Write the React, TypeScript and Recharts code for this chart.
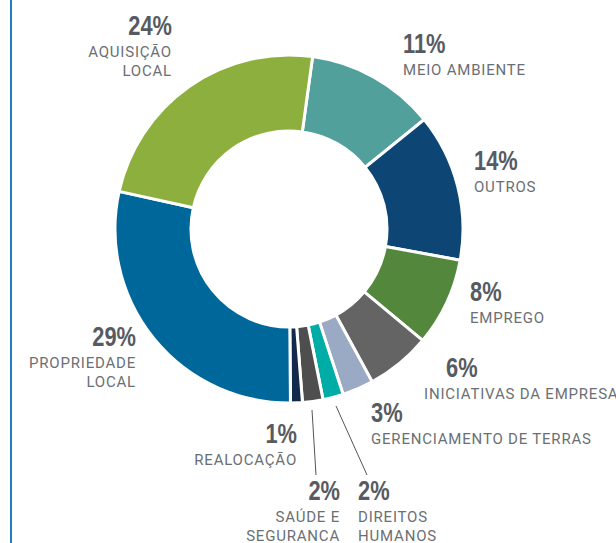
import React from 'react';
import { PieChart, Pie, Cell } from 'recharts';

// slice order, clockwise from the top
const categories = [
  'MEIO AMBIENTE',
  'OUTROS',
  'EMPREGO',
  'INICIATIVAS DA EMPRESA',
  'GERENCIAMENTO DE TERRAS',
  'DIREITOS HUMANOS',
  'SAÚDE E SEGURANCA',
  'REALOCAÇÃO',
  'PROPRIEDADE LOCAL',
  'AQUISIÇÃO LOCAL',
];
const shares = [12.0, 13.7, 8.2, 6.0, 2.9, 1.9, 1.9, 1.1, 28.6, 23.7];
const pctLabels = ['11%', '14%', '8%', '6%', '3%', '2%', '2%', '1%', '29%', '24%'];
// label lines as they are broken in the picture
const nameLines = [
  ['MEIO AMBIENTE'],
  ['OUTROS'],
  ['EMPREGO'],
  ['INICIATIVAS DA EMPRESA'],
  ['GERENCIAMENTO DE TERRAS'],
  ['DIREITOS', 'HUMANOS'],
  ['SAÚDE E', 'SEGURANCA'],
  ['REALOCAÇÃO'],
  ['PROPRIEDADE', 'LOCAL'],
  ['AQUISIÇÃO', 'LOCAL'],
];

const COLORS = [
  '#52A09C', '#0D4674', '#52873C', '#646464', '#9AAAC4',
  '#00ADA6', '#4E4E4E', '#13294B', '#00679A', '#8DAF3E',
];

// label placement relative to the pie centre: dx, dy (baseline of the %), anchor, name shift
const LABEL_POS: { dx: number; dy: number; anchor: 'start' | 'end'; nx?: number }[] = [
  { dx: 114, dy: -176, anchor: 'start' },
  { dx: 185, dy: -59, anchor: 'start' },
  { dx: 181, dy: 72, anchor: 'start' },
  { dx: 157, dy: 148, anchor: 'start', nx: -22 },
  { dx: 82, dy: 193, anchor: 'start' },
  { dx: 69, dy: 271, anchor: 'start' },
  { dx: 51, dy: 271, anchor: 'end' },
  { dx: 8, dy: 214, anchor: 'end' },
  { dx: -153, dy: 117, anchor: 'end' },
  { dx: -117, dy: -194, anchor: 'end' },
];

const LEADERS: Record<number, [number, number, number, number]> = {
  5: [47, 177, 78, 246],
  6: [23, 181, 27, 246],
};

const data = categories.map((name, i) => ({ name, value: shares[i] }));

const CX = 289;
const CY = 229;

const renderLabel = (props: any) => {
  const { index } = props;
  const p = LABEL_POS[index];
  const x = CX + p.dx;
  const y = CY + p.dy;
  const lead = LEADERS[index];
  return (
    <g key={`lbl-${index}`}>
      {lead && (
        <line
          x1={CX + lead[0]}
          y1={CY + lead[1]}
          x2={CX + lead[2]}
          y2={CY + lead[3]}
          stroke="#555"
          strokeWidth={1}
        />
      )}
      <text
        transform={`translate(${x} ${y}) scale(0.78 1)`}
        textAnchor={p.anchor}
        fill="#575B61"
        fontFamily="'Liberation Sans', Arial, sans-serif"
        fontWeight="bold"
        fontSize={28}
      >
        {pctLabels[index]}
      </text>
      {nameLines[index].map((ln, j) => (
        <text
          key={j}
          x={x + (p.nx || 0)}
          y={y + 22 + j * 19}
          textAnchor={p.anchor}
          fill="#6B6F74"
          fontFamily="Roboto, sans-serif"
          fontSize={15}
          letterSpacing={0.8}
        >
          {ln}
        </text>
      ))}
    </g>
  );
};

export default function App() {
  return (
    <div style={{ position: 'absolute', left: 0, top: 0, width: 616, height: 543, background: '#fff' }}>
      <div style={{ position: 'absolute', left: 10, top: 0, width: 2, height: 543, background: '#1F7FC0' }} />
      <PieChart width={616} height={543} margin={{ top: 0, right: 0, bottom: 0, left: 0 }}>
        <Pie
          data={data}
          dataKey="value"
          nameKey="name"
          cx={CX}
          cy={CY}
          innerRadius={98}
          outerRadius={174}
          startAngle={82.2}
          endAngle={-277.8}
          stroke="#fff"
          strokeWidth={3}
          label={renderLabel}
          labelLine={false}
          isAnimationActive={false}
        >
          {data.map((d, i) => (
            <Cell key={d.name} fill={COLORS[i]} />
          ))}
        </Pie>
      </PieChart>
    </div>
  );
}
